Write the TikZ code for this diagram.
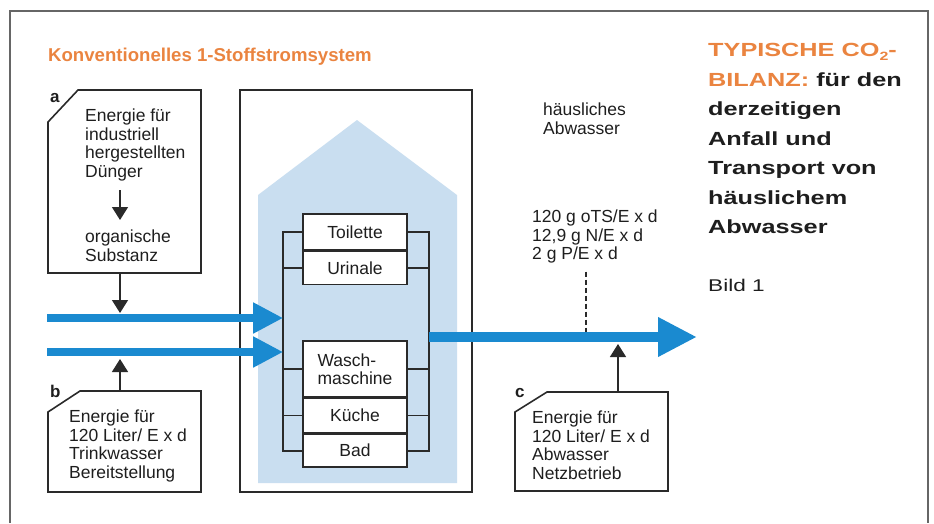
\documentclass[tikz,border=0pt]{standalone}
\usepackage{fontspec}
\setmainfont{Liberation Sans}
\newfontfamily\widefont[FakeStretch=1.33]{Liberation Sans}
\usetikzlibrary{arrows.meta}

\definecolor{stromblau}{HTML}{1A8AD0}
\definecolor{hausblau}{HTML}{C9DEF0}
\definecolor{titelorange}{HTML}{EA8440}
\definecolor{rahmengrau}{HTML}{666666}
\definecolor{linie}{HTML}{2A2A2A}
\definecolor{schrift}{HTML}{1E1E1E}

\tikzset{
  rahmen/.style={draw=rahmengrau, line width=1.5pt},
  kasten/.style={draw=linie, line width=1.6pt},
  leitung/.style={draw=linie, line width=1.6pt},
  txt/.style={font=\fontsize{17.5}{18.5}\selectfont, inner sep=0pt, align=left, text=schrift, anchor=north west},
  marke/.style={font=\bfseries\fontsize{17}{17}\selectfont, inner sep=0pt, text=schrift, anchor=base west},
  raum/.style={draw=linie, fill=white, line width=1.6pt, minimum width=104pt, inner sep=0pt,
    font=\fontsize{17.5}{18.5}\selectfont, align=left, text=schrift},
  pfeil/.style={draw=linie, line width=1.4pt, -{Triangle[width=16pt,length=13pt]}},
  zulauf/.style={draw=stromblau, line width=8pt, -{Triangle[width=29pt,length=30pt]}},
  ablauf/.style={draw=stromblau, line width=10pt, -{Triangle[width=37pt,length=39pt]}},
  seite/.style={font=\widefont\bfseries\fontsize{19}{29.5}\selectfont, inner sep=0pt, align=left, text=schrift},
}

\begin{document}
\begin{tikzpicture}[x=1pt, y=-1pt]
  \useasboundingbox (0,0) rectangle (934,523);

  % Rahmen
  \draw[rahmen] (10,523) -- (10,11) -- (928,11) -- (928,523);
  \node[font=\bfseries\fontsize{18.6}{20}\selectfont, text=titelorange, inner sep=0pt, anchor=base west]
    (titel) at (48,61.5) {Konventionelles 1-Stoffstromsystem};

  % Kasten a
  \draw[kasten] (48,122) -- (78,90) -- (201,90) -- (201,273) -- (48,273) -- cycle;
  \node[marke] (markeA) at (50,102) {a};
  \node[txt] (a1) at (85,109) {Energie für\\industriell\\hergestellten\\Dünger};
  \node[txt] (a2) at (85,230) {organische\\Substanz};
  \coordinate (aUnten) at (120,273);
  \draw[pfeil, shorten <=9pt, shorten >=10pt] (a1.south -| aUnten) -- (a2.north -| aUnten);

  % Haus
  \draw[kasten, fill=white] (240,90) rectangle (472,492);
  \fill[hausblau] (258,483) -- (258,195) -- (357,120) -- (457,195) -- (457,483) -- cycle;

  \node[raum, minimum height=36pt] (toilette) at (355,232) {Toilette};
  \node[raum, minimum height=33pt, anchor=north] (urinale) at (toilette.south) {Urinale};
  \node[raum, minimum height=56pt] (wasch) at (355,369) {Wasch-\\maschine};
  \node[raum, minimum height=34pt, anchor=north] (kueche) at (wasch.south) {Küche};
  \node[raum, minimum height=33pt, anchor=north] (bad) at (kueche.south) {Bad};

  \draw[leitung] (toilette.west) -- ++(-19,0) coordinate (sammelL) |- (bad.west);
  \draw[leitung] (toilette.east) -- ++(21,0) coordinate (sammelR) |- (bad.east);
  \foreach \r in {urinale, wasch, kueche} {
    \draw[leitung] (\r.west) -- ++(-19,0);
    \draw[leitung] (\r.east) -- ++(21,0);
  }

  % Stroeme
  \coordinate (zuA) at (47,318);
  \coordinate (zuB) at (47,352);
  \coordinate (ziel) at (697,337);
  \draw[zulauf] (zuA) -- (zuA -| sammelL);
  \draw[zulauf] (zuB) -- (zuB -| sammelL);
  \draw[ablauf] (ziel -| sammelR) -- (ziel);

  \draw[pfeil, shorten >=5pt] (aUnten) -- (aUnten |- zuA);

  % Kasten b
  \draw[kasten] (48,412) -- (80,391) -- (201,391) -- (201,492) -- (48,492) -- cycle;
  \node[marke] (markeB) at (50,397) {b};
  \node[txt] (b1) at (69,410) {Energie für\\120 Liter/ E x d\\Trinkwasser\\Bereitstellung};
  \coordinate (bOben) at (120,391);
  \draw[pfeil, shorten >=7pt] (bOben) -- (bOben |- zuB);

  % Kasten c
  \draw[kasten] (515,412) -- (547,392) -- (668,392) -- (668,491) -- (515,491) -- cycle;
  \node[marke] (markeC) at (515,397) {c};
  \node[txt] (c1) at (532,411) {Energie für\\120 Liter/ E x d\\Abwasser\\Netzbetrieb};
  \coordinate (cOben) at (618,392);
  \draw[pfeil, shorten >=7pt] (cOben) -- (cOben |- ziel);

  % Abwasser
  \node[txt] (haeusl) at (543,103) {häusliches\\Abwasser};
  \node[txt] (werte) at (532,210) {120 g oTS/E x d\\12,9 g N/E x d\\2 g P/E x d};
  \coordinate (messpunkt) at (586,337);
  \draw[leitung, line width=1.3pt, dash pattern=on 5pt off 3pt, shorten <=8pt, shorten >=5pt]
    (werte.south -| messpunkt) -- (messpunkt);

  % Seitentext
  \node[seite, anchor=north west] (bilanz) at (708,43.3)
    {\textcolor{titelorange}{TYPISCHE CO\raisebox{-4pt}{\fontsize{12}{12}\selectfont 2}-}\\\textcolor{titelorange}{BILANZ:} für den\\derzeitigen\\Anfall und\\Transport von\\häuslichem\\Abwasser};
  \node[seite, font=\widefont\fontsize{17}{20}\selectfont, anchor=base west] (bild) at (708,291) {Bild 1};
\end{tikzpicture}
\end{document}
